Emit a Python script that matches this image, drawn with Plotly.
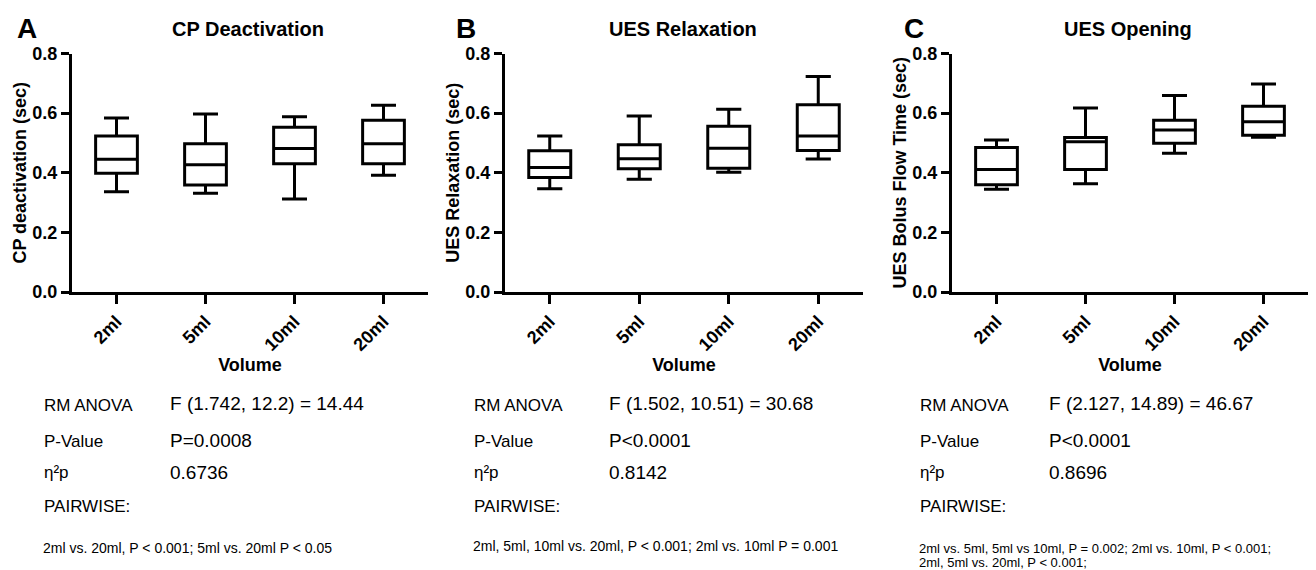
import plotly.graph_objects as go

# ---------------- data ----------------
volumes = ["2ml", "5ml", "10ml", "20ml"]

cp_lower = [0.336, 0.331, 0.312, 0.392]
cp_q1 = [0.398, 0.359, 0.430, 0.430]
cp_median = [0.445, 0.427, 0.481, 0.497]
cp_q3 = [0.523, 0.497, 0.553, 0.576]
cp_upper = [0.584, 0.597, 0.588, 0.626]

rel_lower = [0.346, 0.378, 0.402, 0.446]
rel_q1 = [0.384, 0.413, 0.415, 0.475]
rel_median = [0.418, 0.447, 0.482, 0.523]
rel_q3 = [0.474, 0.494, 0.556, 0.628]
rel_upper = [0.523, 0.590, 0.613, 0.723]

open_lower = [0.345, 0.363, 0.465, 0.519]
open_q1 = [0.360, 0.411, 0.499, 0.526]
open_median = [0.411, 0.504, 0.543, 0.571]
open_q3 = [0.485, 0.518, 0.576, 0.623]
open_upper = [0.510, 0.617, 0.659, 0.698]

panel_letters = ["A", "B", "C"]
panel_titles = ["CP Deactivation", "UES Relaxation", "UES Opening"]
y_titles = ["CP deactivation (sec)", "UES Relaxation (sec)", "UES Bolus Flow Time (sec)"]
x_title = "Volume"
y_tickvals = [0.0, 0.2, 0.4, 0.6, 0.8]

stat_labels = ["RM ANOVA", "P-Value", "η²p", "PAIRWISE:"]
anova_f = ["F (1.742, 12.2) = 14.44", "F (1.502, 10.51) = 30.68", "F (2.127, 14.89) = 46.67"]
p_values = ["P=0.0008", "P<0.0001", "P<0.0001"]
eta_values = ["0.6736", "0.8142", "0.8696"]
pairwise = [
    ["2ml vs. 20ml, P < 0.001; 5ml vs. 20ml P < 0.05"],
    ["2ml, 5ml, 10ml vs. 20ml, P < 0.001; 2ml vs. 10ml P = 0.001"],
    ["2ml vs. 5ml, 5ml vs 10ml, P = 0.002; 2ml vs. 10ml, P < 0.001;",
     "2ml, 5ml vs. 20ml, P < 0.001;"],
]

# ---------------- layout geometry (pixels) ----------------
W, H = 1316, 570
x_domains_px = [(72, 428), (505, 863), (952, 1308)]
y_domain_px = (53.5, 292)

def px_x(x):
    return x / W

def px_y(y):
    return 1 - y / H

FONT = "Arial, Liberation Sans, Helvetica, sans-serif"

fig = go.Figure()

series = [
    (cp_lower, cp_q1, cp_median, cp_q3, cp_upper),
    (rel_lower, rel_q1, rel_median, rel_q3, rel_upper),
    (open_lower, open_q1, open_median, open_q3, open_upper),
]

for i, (lo, q1, med, q3, up) in enumerate(series):
    sfx = "" if i == 0 else str(i + 1)
    fig.add_trace(go.Box(
        x=volumes, q1=q1, median=med, q3=q3, lowerfence=lo, upperfence=up,
        line=dict(color="black", width=3), fillcolor="white",
        whiskerwidth=0.6, boxpoints=False, showlegend=False,
        xaxis="x" + sfx, yaxis="y" + sfx,
    ))

axis_common = dict(
    showline=True, linecolor="black", linewidth=3, showgrid=False, zeroline=False,
    ticks="outside", tickwidth=3, tickcolor="black", automargin=False,
    tickfont=dict(family=FONT, size=18, color="black", weight="bold"),
)

layout = dict(
    width=W, height=H, margin=dict(l=0, r=0, t=0, b=0, autoexpand=False),
    paper_bgcolor="white", plot_bgcolor="white", boxgap=0.33, showlegend=False,
)

for i in range(3):
    sfx = "" if i == 0 else str(i + 1)
    x0, x1 = x_domains_px[i]
    layout["xaxis" + sfx] = dict(
        axis_common, domain=[px_x(x0), px_x(x1)], anchor="y" + sfx,
        type="category", categoryorder="array", categoryarray=volumes,
        range=[-0.5, 3.5], tickangle=-45, ticklen=9,
        title=dict(text=x_title, font=dict(family=FONT, size=18, color="black", weight="bold"), standoff=1),
    )
    layout["yaxis" + sfx] = dict(
        axis_common, domain=[px_y(y_domain_px[1]), px_y(y_domain_px[0])], anchor="x" + sfx,
        range=[0, 0.8], tickvals=y_tickvals, tickformat=".1f", ticklen=8,
        title=dict(text=y_titles[i], font=dict(family=FONT, size=18, color="black", weight="bold"), standoff=2),
    )

fig.update_layout(**layout)

annotations = []
title_centers_px = [248, 683, 1128]
letter_centers_px = [27, 466, 914]
for i in range(3):
    annotations.append(dict(
        text=panel_titles[i], x=px_x(title_centers_px[i]), y=px_y(29), xref="paper", yref="paper",
        xanchor="center", yanchor="middle", showarrow=False,
        font=dict(family=FONT, size=20, color="black", weight="bold"),
    ))
    annotations.append(dict(
        text=panel_letters[i], x=px_x(letter_centers_px[i]), y=px_y(28), xref="paper", yref="paper",
        xanchor="center", yanchor="middle", showarrow=False,
        font=dict(family=FONT, size=28, color="black", weight="bold"),
    ))

label_x_px = [42, 472, 918]
value_x_px = [168, 607, 1047]
row_y_px = [405, 441, 472, 506]
value_y_px = [403, 440, 472]
pair_y_px = [[548], [546], [548, 562.5]]
pair_size = [14, 14, 13]
for i in range(3):
    for r, lab in enumerate(stat_labels):
        annotations.append(dict(
            text=lab, x=px_x(label_x_px[i]), y=px_y(row_y_px[r]), xref="paper", yref="paper",
            xanchor="left", yanchor="middle", showarrow=False,
            font=dict(family=FONT, size=17, color="black"),
        ))
    for r, val in enumerate([anova_f[i], p_values[i], eta_values[i]]):
        annotations.append(dict(
            text=val, x=px_x(value_x_px[i]), y=px_y(value_y_px[r]), xref="paper", yref="paper",
            xanchor="left", yanchor="middle", showarrow=False,
            font=dict(family=FONT, size=19, color="black"),
        ))
    for line, yy in zip(pairwise[i], pair_y_px[i]):
        annotations.append(dict(
            text=line, x=px_x(label_x_px[i]), y=px_y(yy), xref="paper", yref="paper",
            xanchor="left", yanchor="middle", align="left", showarrow=False, borderpad=0,
            font=dict(family=FONT, size=pair_size[i], color="black"),
        ))

fig.update_layout(annotations=annotations)

fig.write_html(
    "out.html",
    config={"displayModeBar": False},
    post_script="document.body.style.margin='0';document.body.style.overflow='hidden';",
)
